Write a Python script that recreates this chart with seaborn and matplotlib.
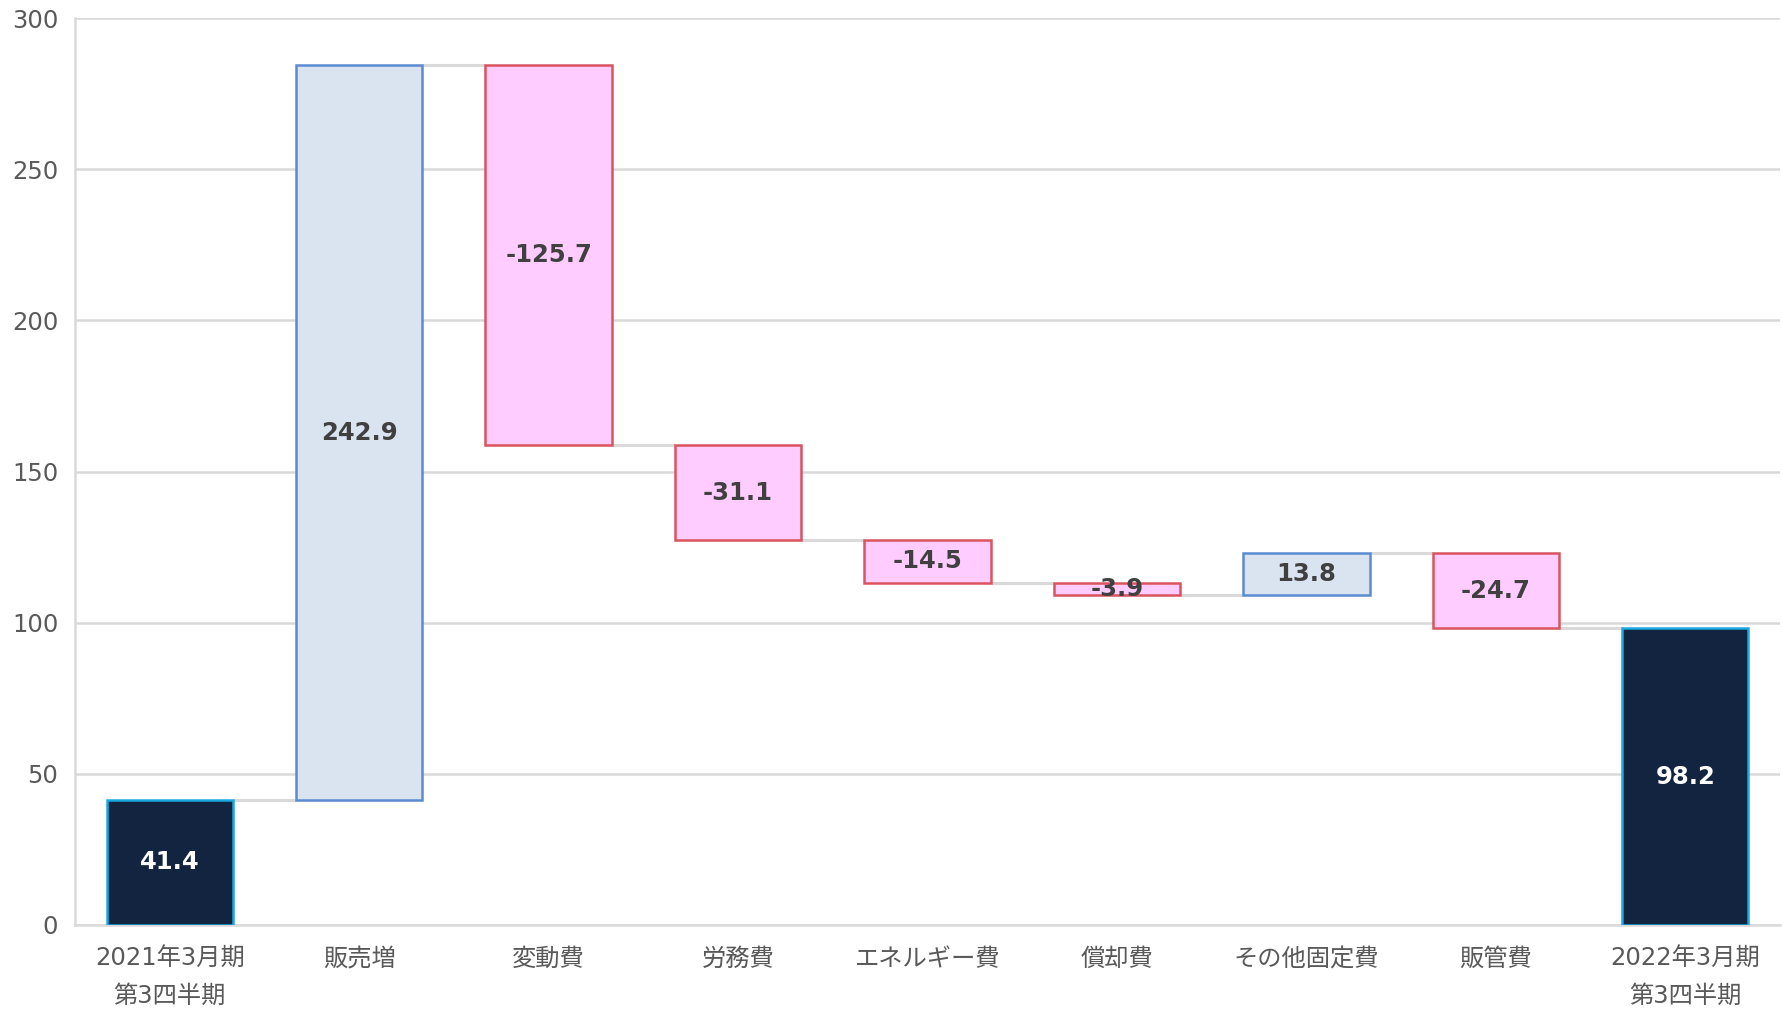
import matplotlib
matplotlib.use("Agg")
import matplotlib.pyplot as plt
import seaborn as sns
import numpy as np
import pandas as pd

categories = ["2021年3月期\n第3四半期", "販売増", "変動費", "労務費", "エネルギー費",
              "償却費", "その他固定費", "販管費", "2022年3月期\n第3四半期"]
values = [41.4, 242.9, -125.7, -31.1, -14.5, -3.9, 13.8, -24.7, 98.2]
kinds = ["total", "delta", "delta", "delta", "delta", "delta", "delta", "delta", "total"]
labels = ["41.4", "242.9", "-125.7", "-31.1", "-14.5", "-3.9", "13.8", "-24.7", "98.2"]
yticks = [0, 50, 100, 150, 200, 250, 300]

sns.set_theme(style="white")
plt.rcParams["font.family"] = ["DejaVu Sans", "Noto Sans CJK JP"]

# compute bottoms / heights
bottoms, heights, tops = [], [], []
run = 0.0
for v, k in zip(values, kinds):
    if k == "total":
        b, h = 0.0, v
        run = v
    else:
        b = run if v >= 0 else run + v
        h = abs(v)
        run = run + v
    bottoms.append(b)
    heights.append(h)
    tops.append(run)

df = pd.DataFrame({"cat": categories, "h": heights})

fig = plt.figure(figsize=(17.83, 10.10), dpi=100)
ax = fig.add_axes([75 / 1783, 1 - 925 / 1010, (1780 - 75) / 1783, (925 - 18) / 1010])

sns.barplot(data=df, x="cat", y="h", order=categories, ax=ax, width=0.667,
            color="#DAE3F0", saturation=1, zorder=3)

for i, p in enumerate(ax.patches):
    p.set_y(bottoms[i])
    p.set_height(heights[i])
    if kinds[i] == "total":
        p.set_facecolor("#12243F")
        p.set_edgecolor("#1AA8E0")
    elif values[i] >= 0:
        p.set_facecolor("#DAE3F0")
        p.set_edgecolor("#5B8BD0")
    else:
        p.set_facecolor("#FFCCFF")
        p.set_edgecolor("#D9545F")
    p.set_linewidth(1.8)

# connectors
w = 0.667
for i in range(len(values) - 1):
    ax.plot([i + w / 2, i + 1 - w / 2], [tops[i], tops[i]], color="#D9D9D9",
            lw=2.2, zorder=2, solid_capstyle="butt")

# value labels
for i in range(len(values)):
    cy = bottoms[i] + heights[i] / 2
    col = "white" if kinds[i] == "total" else "#404040"
    ax.text(i, cy, labels[i], ha="center", va="center", fontsize=17.5,
            fontweight="bold", color=col, zorder=5)

ax.set_xlim(-0.5, 8.5)
ax.set_ylim(0, 300)
ax.set_yticks(yticks)
ax.set_yticklabels([str(t) for t in yticks])
ax.yaxis.grid(True, color="#D9D9D9", lw=1.8, zorder=0)
ax.set_axisbelow(True)
ax.set_xlabel("")
ax.set_ylabel("")
for s in ["top", "right"]:
    ax.spines[s].set_visible(False)
for s in ["left", "bottom"]:
    ax.spines[s].set_color("#D9D9D9")
    ax.spines[s].set_linewidth(1.8)
ax.tick_params(axis="y", labelsize=17.5, labelcolor="#595959", length=0, pad=12)
ax.tick_params(axis="x", labelsize=17.5, labelcolor="#595959", length=0, pad=16)
for t in ax.get_xticklabels():
    t.set_linespacing(1.65)

fig.savefig("out.png", dpi=100, facecolor="white")
